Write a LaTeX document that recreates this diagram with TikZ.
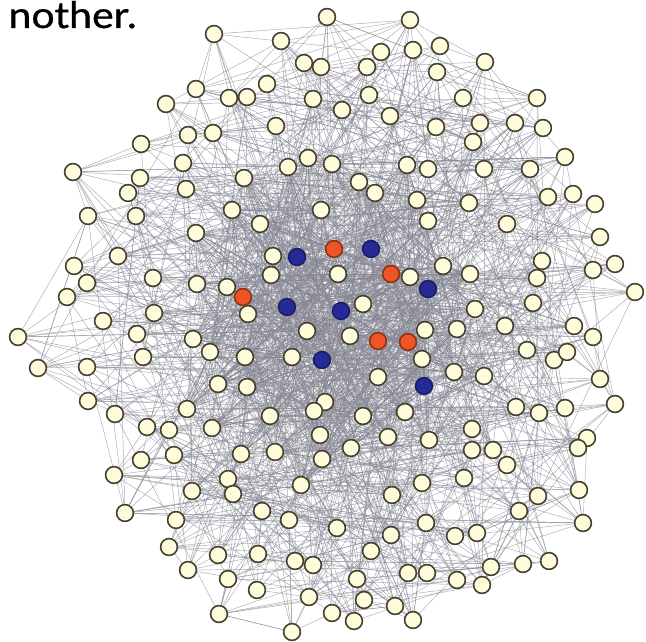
\documentclass[tikz,border=0pt]{standalone}
\usepackage{fontspec}
\newfontfamily\txtfont[FakeBold=0.7]{Lato}
\pgfdeclarelayer{bg}
\pgfsetlayers{bg,main}
\definecolor{cream}{RGB}{255,252,220}
\definecolor{rim}{RGB}{66,64,46}
\definecolor{rednode}{RGB}{238,84,36}
\definecolor{bluenode}{RGB}{38,42,150}
\definecolor{edgecol}{RGB}{135,135,148}
\newcount\centralcount
\tikzset{
 cn/.style={circle,draw=rim,fill=cream,line width=1.2pt,minimum size=12.6pt,inner sep=0pt},
 rn/.style={cn,fill=rednode,draw=rednode!60!black},
 bn/.style={cn,fill=bluenode,draw=bluenode!70!black},
 link/.style={draw=edgecol,line width=0.35pt,opacity=0.7}
}
\begin{document}
\begin{tikzpicture}[x=0.75pt,y=-0.75pt]
\useasboundingbox (0,0) rectangle (646,642);
\node[anchor=base east,font=\txtfont\fontsize{27.5}{27.5}\selectfont,inner sep=0pt,xscale=1.12] (title) at (137,28) {nother.};
\foreach \x/\y/\t [count=\i] in {
214/34/cn,281/41/cn,327/17/cn,410/20/cn,440/46/cn,413/50/cn,381/52/cn,485/62/cn,367/67/cn,437/72/cn,
304/63/cn,321/67/cn,196/89/cn,166/104/cn,229/98/cn,247/97/cn,267/84/cn,313/99/cn,342/110/cn,369/95/cn,
390/116/cn,463/98/cn,537/98/cn,480/123/cn,515/123/cn,543/128/cn,436/127/cn,188/135/cn,213/133/cn,141/144/cn,
276/126/cn,473/142/cn,183/163/cn,308/158/cn,288/167/cn,332/164/cn,407/165/cn,428/169/cn,484/169/cn,530/169/cn,
565/157/cn,73/172/cn,140/178/cn,244/178/cn,359/182/cn,375/193/cn,128/193/cn,186/189/cn,417/200/cn,469/203/cn,
548/197/cn,573/194/cn,595/204/cn,232/210/cn,321/210/cn,88/216/cn,136/216/cn,260/224/cn,428/221/cn,507/224/cn,
600/237/cn,196/233/cn,118/256/cn,74/266/cn,87/283/cn,67/297/cn,153/278/cn,197/284/cn,273/256/cn,271/275/cn,
338/274/cn,410/277/cn,227/287/cn,443/266/cn,470/274/cn,542/261/cn,537/278/cn,593/270/cn,615/264/cn,635/292/cn,
103/321/cn,154/313/cn,248/314/cn,363/304/cn,475/309/cn,533/303/cn,18/337/cn,137/334/cn,193/339/cn,307/331/cn,
350/336/cn,425/330/cn,457/329/cn,505/326/cn,574/326/cn,593/337/cn,210/352/cn,143/357/cn,38/368/cn,87/367/cn,
245/357/cn,292/357/cn,422/359/cn,527/350/cn,554/360/cn,567/352/cn,378/377/cn,454/372/cn,484/376/cn,600/379/cn,
218/384/cn,247/387/cn,88/401/cn,115/414/cn,187/409/cn,325/402/cn,314/411/cn,270/416/cn,363/416/cn,405/412/cn,
516/407/cn,539/413/cn,565/408/cn,615/404/cn,147/427/cn,169/430/cn,212/428/cn,472/429/cn,320/435/cn,388/437/cn,
429/440/cn,241/454/cn,275/452/cn,322/459/cn,351/448/cn,141/460/cn,174/455/cn,114/475/cn,587/438/cn,578/448/cn,
472/450/cn,493/450/cn,507/465/cn,464/478/cn,228/479/cn,233/494/cn,301/485/cn,392/495/cn,422/483/cn,192/491/cn,
538/496/cn,579/490/cn,125/513/cn,176/520/cn,262/511/cn,289/520/cn,337/528/cn,391/535/cn,426/523/cn,519/511/cn,
583/523/cn,455/536/cn,477/533/cn,169/547/cn,371/551/cn,218/555/cn,258/554/cn,295/561/cn,313/565/cn,188/570/cn,
408/573/cn,427/573/cn,491/567/cn,523/564/cn,549/561/cn,228/579/cn,257/590/cn,357/579/cn,457/580/cn,482/585/cn,
309/597/cn,364/600/cn,395/606/cn,219/614/cn,332/613/cn,354/621/cn,413/620/cn,292/632/cn,
334/249/rn,391/274/rn,243/297/rn,378/341/rn,408/342/rn,
297/257/bn,371/249/bn,428/289/bn,287/307/bn,341/311/bn,322/360/bn,424/386/bn}
{\node[\t] (n\i) at (\x,\y) {};
 \pgfmathtruncatemacro{\inner}{veclen(\x-330,\y-320)<175 ? 1 : 0}
 \ifnum\inner=1
   \global\advance\centralcount by 1
   \expandafter\xdef\csname cnode\the\centralcount\endcsname{\i}
 \fi}
\begin{pgfonlayer}{bg}
\pgfmathsetseed{7}
\foreach \i in {1,...,200} {
  \foreach \k in {1,...,4} {
    \pgfmathrandominteger{\j}{1}{200}
    \ifnum\j=\i\else\draw[link] (n\i) -- (n\j);\fi
  }
  \foreach \k in {1,2} {
    \pgfmathrandominteger{\d}{1}{14}
    \pgfmathtruncatemacro{\j}{\i+\d}
    \ifnum\j>200\else\draw[link] (n\i) -- (n\j);\fi
  }
}
\foreach \k in {1,...,650} {
  \pgfmathrandominteger{\a}{1}{\the\centralcount}
  \pgfmathrandominteger{\b}{1}{\the\centralcount}
  \edef\ia{\csname cnode\a\endcsname}
  \edef\ib{\csname cnode\b\endcsname}
  \ifnum\ia=\ib\else\draw[link] (n\ia) -- (n\ib);\fi
}
\end{pgfonlayer}
\end{tikzpicture}
\end{document}
